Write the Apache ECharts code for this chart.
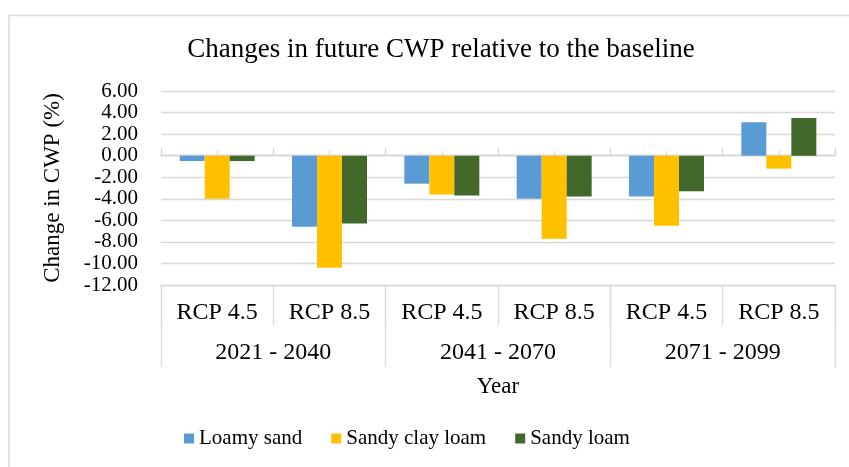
<!DOCTYPE html>
<html><head><meta charset="utf-8">
<script src="https://cdn.jsdelivr.net/npm/echarts@6/dist/echarts.min.js"></script>
<style>html,body{margin:0;padding:0;background:#fff}#c{width:849px;height:467px}</style>
</head><body><div id="c"></div>
<script>
// ---- data ----
const rcpLabels = ['RCP 4.5', 'RCP 8.5', 'RCP 4.5', 'RCP 8.5', 'RCP 4.5', 'RCP 8.5'];
const periodLabels = ['2021 - 2040', '2041 - 2070', '2071 - 2099'];
const seriesNames = ['Loamy sand', 'Sandy clay loam', 'Sandy loam'];
const loamySand = [-0.5, -6.6, -2.6, -4.0, -3.8, 3.1];
const sandyClayLoam = [-4.0, -10.4, -3.6, -7.7, -6.5, -1.2];
const sandyLoam = [-0.5, -6.3, -3.7, -3.8, -3.3, 3.5];
const yMin = -12, yMax = 6, yStep = 2;
const halfTickCats = ['', '', '', '', '', '', '', '', '', '', '', ''];

// ---- chart ----
const FONT = '"Liberation Serif", "Times New Roman", serif';
const GRID_C = '#d9d9d9';
const colors = ['#5B9BD5', '#FFC000', '#43682B'];
const chart = echarts.init(document.getElementById('c'), null, {renderer: 'canvas'});

const option = {
  animation: false,
  backgroundColor: '#fff',
  textStyle: {fontFamily: FONT, color: '#000'},
  title: {
    text: 'Changes in future CWP relative to the baseline',
    left: 436, top: 31, textAlign: 'center',
    textStyle: {fontFamily: FONT, fontSize: 27, fontWeight: 'normal', color: '#000'}
  },
  graphic: [
    {type: 'line', shape: {x1: 9, y1: 15.5, x2: 849, y2: 15.5}, style: {stroke: GRID_C, lineWidth: 1.5}, silent: true},
    {type: 'line', shape: {x1: 9, y1: 15.5, x2: 9, y2: 467}, style: {stroke: GRID_C, lineWidth: 1.5}, silent: true}
  ],
  legend: {
    data: seriesNames,
    bottom: 13, left: 179,
    icon: 'rect', itemWidth: 10, itemHeight: 10, itemGap: 29,
    textStyle: {fontFamily: FONT, fontSize: 21, color: '#000'}
  },
  grid: {left: 161, right: 14, top: 91, bottom: 182, containLabel: false},
  xAxis: [
    {
      type: 'category', data: rcpLabels, position: 'bottom',
      axisLine: {onZero: false, lineStyle: {color: GRID_C, width: 1.3}},
      axisTick: {show: true, interval: 0, length: 40, lineStyle: {color: GRID_C, width: 1.3}},
      axisLabel: {interval: 0, margin: 16, fontFamily: FONT, fontSize: 24, color: '#000'}
    },
    {
      type: 'category', data: periodLabels, position: 'bottom',
      axisLine: {show: false, onZero: false},
      axisTick: {show: true, interval: 0, length: 82, lineStyle: {color: GRID_C, width: 1.3}},
      axisLabel: {interval: 0, margin: 56, fontFamily: FONT, fontSize: 24, color: '#000'},
      name: 'Year', nameLocation: 'middle', nameGap: 90,
      nameTextStyle: {fontFamily: FONT, fontSize: 23, color: '#000'}
    },
    {
      type: 'category', data: rcpLabels, position: 'bottom',
      axisLine: {show: true, onZero: true, onZeroAxisIndex: 0, lineStyle: {color: GRID_C, width: 1.3}},
      axisTick: {show: true, inside: true, interval: 0, length: 8, lineStyle: {color: GRID_C, width: 1.3}},
      axisLabel: {show: false}
    },
    {
      type: 'category', data: halfTickCats, position: 'bottom',
      axisLine: {show: true, onZero: true, onZeroAxisIndex: 0, lineStyle: {color: GRID_C, width: 1.3}},
      axisTick: {show: true, inside: true, interval: 0, length: 5, lineStyle: {color: GRID_C, width: 1.3}},
      axisLabel: {show: false}
    }
  ],
  yAxis: {
    type: 'value', min: yMin, max: yMax, interval: yStep,
    axisLine: {show: false}, axisTick: {show: false},
    splitLine: {lineStyle: {color: GRID_C, width: 1.3}},
    axisLabel: {margin: 23, fontFamily: FONT, fontSize: 21, color: '#000',
      formatter: v => v.toFixed(2)},
    name: 'Change in CWP (%)', nameLocation: 'middle', nameRotate: 90, nameGap: 97,
    nameTextStyle: {fontFamily: FONT, fontSize: 23, color: '#000'}
  },
  series: [
    {name: seriesNames[0], type: 'bar', xAxisIndex: 0, data: loamySand, barWidth: 25, barGap: '0%', itemStyle: {color: colors[0]}},
    {name: seriesNames[1], type: 'bar', xAxisIndex: 0, data: sandyClayLoam, barWidth: 25, barGap: '0%', itemStyle: {color: colors[1]}},
    {name: seriesNames[2], type: 'bar', xAxisIndex: 0, data: sandyLoam, barWidth: 25, barGap: '0%', itemStyle: {color: colors[2]}}
  ]
};
chart.setOption(option);
</script>
</body></html>
